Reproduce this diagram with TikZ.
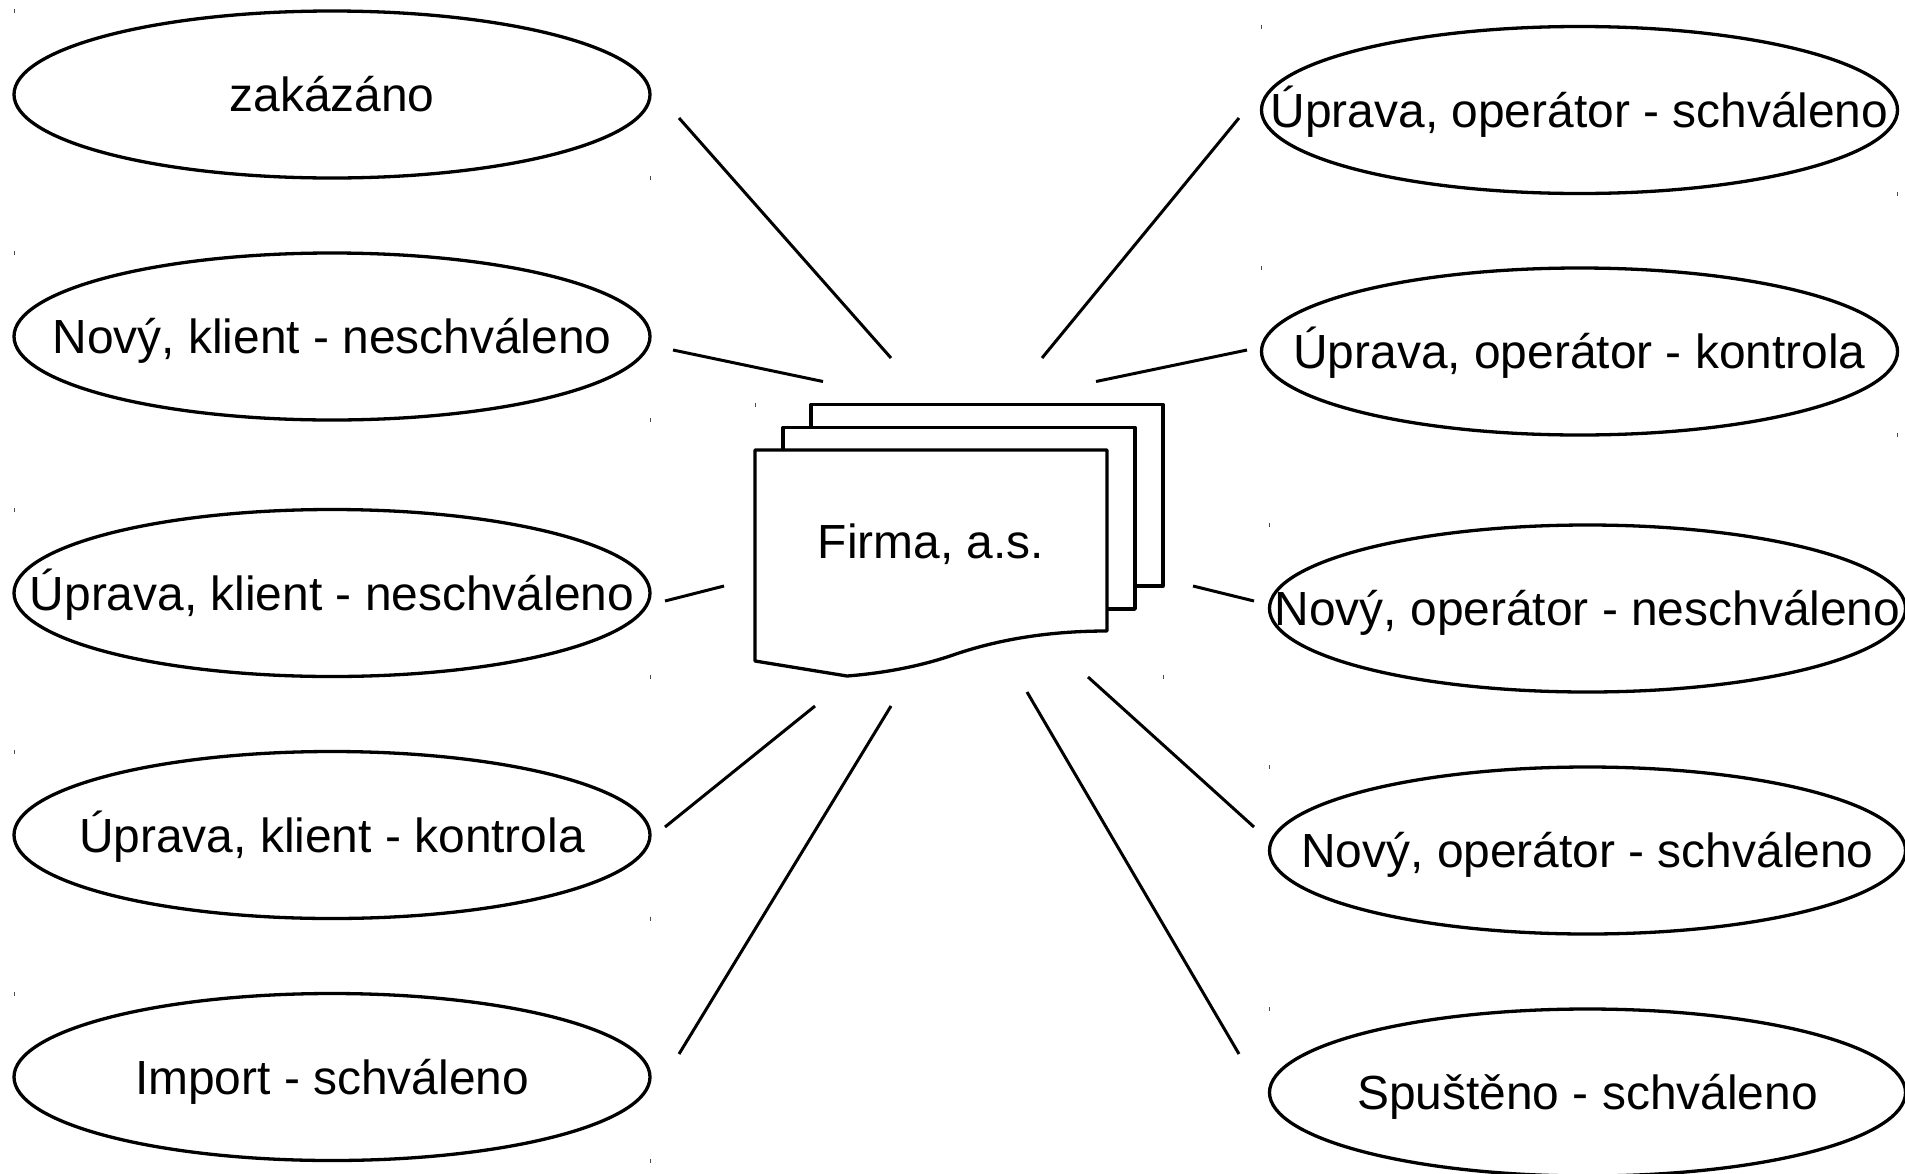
\documentclass[tikz,border=0pt]{standalone}
\usepackage{fontspec}
\setmainfont{Liberation Sans}
\usetikzlibrary{shapes.geometric}
\tikzset{
  oval/.style={ellipse,draw=black,line width=3.3pt,minimum width=636pt,minimum height=167pt,
    inner sep=0pt,outer sep=0pt,text height=34pt,text depth=0pt,font=\fontsize{47.9}{50}\selectfont},
  link/.style={draw=black,line width=3pt},
  sheet/.style={draw=black,fill=white,line width=3.3pt,line join=round},
  tick/.style={draw=black!70,line width=1pt},
  caption/.style={inner sep=0pt,anchor=base,font=\fontsize{47.9}{50}\selectfont}
}
\newcommand{\ovaltext}[1]{\makebox[0pt][c]{#1}}
\begin{document}
\begin{tikzpicture}[x=1pt,y=-1pt]
\clip (0,0) rectangle (1905,1173);
\fill[white] (0,0) rectangle (1905,1173);
% ovals
\node[oval] (e1) at (332,94.5) {\ovaltext{zakázáno}};
\node[oval] (e2) at (332,336.5) {\ovaltext{Nový, klient - neschváleno}};
\node[oval] (e3) at (332,593) {\ovaltext{Úprava, klient - neschváleno}};
\node[oval] (e4) at (332,835) {\ovaltext{Úprava, klient - kontrola}};
\node[oval] (e5) at (332,1077) {\ovaltext{Import - schváleno}};
\node[oval] (f1) at (1579.5,110) {\ovaltext{Úprava, operátor - schváleno}};
\node[oval] (f2) at (1579.5,351.5) {\ovaltext{Úprava, operátor - kontrola}};
\node[oval] (f3) at (1587.5,608.5) {\ovaltext{Nový, operátor - neschváleno}};
\node[oval] (f4) at (1587.5,850.5) {\ovaltext{Nový, operátor - schváleno}};
\node[oval] (f5) at (1587.5,1092.5) {\ovaltext{Spuštěno - schváleno}};
% corner ticks
\foreach \cx/\cy in {332/94.5,332/336.5,332/593,332/835,332/1077,1579.5/110,1579.5/351.5,1587.5/608.5,1587.5/850.5,1587.5/1092.5}{
  \draw[tick] (\cx-318,\cy-83.5-2) -- ++(0,4);
  \draw[tick] (\cx+318,\cy+83.5-2) -- ++(0,4);
}
\draw[tick] (755,403) -- ++(0,4);
\draw[tick] (1163,675) -- ++(0,4);
% document stack
\path[sheet] (811,404.5) -- (1163,404.5) -- (1163,586) -- (1120,586) -- (1120,440) -- (811,440) -- cycle;
\path[sheet] (783,427.5) -- (1135,427.5) -- (1135,609) -- (1090,609) -- (1090,470) -- (783,470) -- cycle;
\path[sheet] (755,450) -- (1107,450) -- (1107,631)
  .. controls (1035,631) and (985,644) .. (953,655)
  .. controls (921,666) and (885,673) .. (847,676) -- (755,661) -- cycle;
\node[caption] (doc) at (931,558) {Firma, a.s.};
% connector ends
\coordinate (a1) at (679,118);   \coordinate (b1) at (891,358);
\coordinate (a2) at (673,350);   \coordinate (b2) at (823,381.5);
\coordinate (a3) at (665,601);   \coordinate (b3) at (724,586);
\coordinate (a4) at (665,827);   \coordinate (b4) at (815,706);
\coordinate (a5) at (679,1054);  \coordinate (b5) at (891,706);
\coordinate (c1) at (1239,118);  \coordinate (d1) at (1042,358);
\coordinate (c2) at (1247,350);  \coordinate (d2) at (1096,381.5);
\coordinate (c3) at (1254,601);  \coordinate (d3) at (1193,586);
\coordinate (c4) at (1254,827);  \coordinate (d4) at (1088,677);
\coordinate (c5) at (1239,1054); \coordinate (d5) at (1027,692);
\draw[link] (a1) -- (b1);
\draw[link] (a2) -- (b2);
\draw[link] (a3) -- (b3);
\draw[link] (a4) -- (b4);
\draw[link] (a5) -- (b5);
\draw[link] (c1) -- (d1);
\draw[link] (c2) -- (d2);
\draw[link] (c3) -- (d3);
\draw[link] (c4) -- (d4);
\draw[link] (c5) -- (d5);
\end{tikzpicture}
\end{document}
